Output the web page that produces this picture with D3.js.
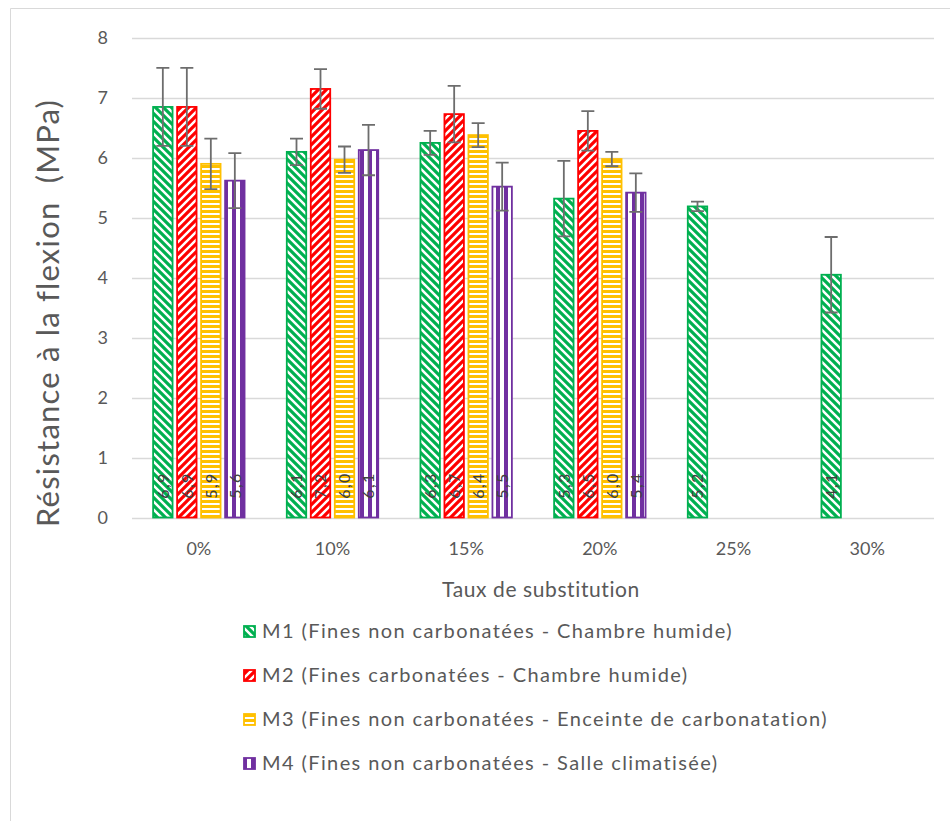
<!DOCTYPE html>
<html><head><meta charset="utf-8">
<script src="https://cdn.jsdelivr.net/npm/d3@7/dist/d3.min.js"></script>
<style>
html,body{margin:0;padding:0;background:#fff;}
svg{display:block;font-family:Lato, "Open Sans", sans-serif;}
</style></head>
<body>
<svg id="chart" width="950" height="821"></svg>
<script>
const categories = ["0%","10%","15%","20%","25%","30%"];
const seriesNames = [
  "M1 (Fines non carbonatées - Chambre humide)",
  "M2 (Fines carbonatées - Chambre humide)",
  "M3 (Fines non carbonatées - Enceinte de carbonatation)",
  "M4 (Fines non carbonatées - Salle climatisée)"
];
const seriesColors = ["#00B050","#FF0000","#FFC000","#7030A0"];
const m1Values = [6.85, 6.10, 6.25, 5.32, 5.19, 4.05];
const m2Values = [6.85, 7.15, 6.73, 6.45, null, null];
const m3Values = [5.90, 5.97, 6.38, 5.98, null, null];
const m4Values = [5.62, 6.13, 5.52, 5.42, null, null];
const m1Errors = [0.65, 0.22, 0.20, 0.63, 0.08, 0.63];
const m2Errors = [0.65, 0.33, 0.47, 0.33, null, null];
const m3Errors = [0.42, 0.22, 0.20, 0.12, null, null];
const m4Errors = [0.46, 0.42, 0.40, 0.32, null, null];
const m1Labels = ["6,9","6,1","6,3","5,3","5,2","4,1"];
const m2Labels = ["6,9","7,2","6,7","6,5",null,null];
const m3Labels = ["5,9","6,0","6,4","6,0",null,null];
const m4Labels = ["5,6","6,1","5,5","5,4",null,null];
const yTicks = [0,1,2,3,4,5,6,7,8];
const yTitle = "Résistance à la flexion  (MPa)";
const xTitle = "Taux de substitution";

const allValues = [m1Values, m2Values, m3Values, m4Values];
const allErrors = [m1Errors, m2Errors, m3Errors, m4Errors];
const allLabels = [m1Labels, m2Labels, m3Labels, m4Labels];

const svg = d3.select("#chart");
const textColor = "#595959";

// patterns
const defs = svg.append("defs");
function pat(id, w, h, color, draw){
  const p = defs.append("pattern").attr("id", id).attr("patternUnits","userSpaceOnUse")
    .attr("width", w).attr("height", h);
  p.append("rect").attr("width", w).attr("height", h).attr("fill","#fff");
  draw(p, color);
}
// M1: wide downward diagonal "\"
pat("p0", 8, 8, seriesColors[0], (p,c)=>{
  p.append("path").attr("d","M-2,-2 L10,10 M-2,6 L2,10 M6,-2 L10,2").attr("stroke",c).attr("stroke-width",3.2);
});
// M2: wide upward diagonal "/"
pat("p1", 8, 8, seriesColors[1], (p,c)=>{
  p.append("path").attr("d","M-2,10 L10,-2 M-2,2 L2,-2 M6,10 L10,6").attr("stroke",c).attr("stroke-width",3.2);
});
// M3: horizontal stripes
pat("p2", 6, 5, seriesColors[2], (p,c)=>{
  p.append("rect").attr("width",6).attr("height",3).attr("fill",c);
});
// M4: vertical stripes
pat("p3", 8, 6, seriesColors[3], (p,c)=>{
  p.append("rect").attr("width",4).attr("height",6).attr("fill",c);
});

// border
svg.append("path").attr("d","M10.5,821 L10.5,8.5 L950,8.5").attr("fill","none").attr("stroke","#d9d9d9").attr("stroke-width",1);

const x0 = d3.scaleBand().domain(categories).range([132, 934]).paddingInner(0).paddingOuter(0);
const x1 = d3.scaleBand().domain(d3.range(4)).range([-48, 48]).paddingInner(0.19).paddingOuter(0.095);
const y = d3.scaleLinear().domain([0, 8]).range([517.5, 38]);

// gridlines
svg.append("g").selectAll("line").data(yTicks).join("line")
  .attr("x1", 132).attr("x2", 934)
  .attr("y1", d => Math.round(y(d)) + 0.5).attr("y2", d => Math.round(y(d)) + 0.5)
  .attr("stroke", "#d9d9d9").attr("stroke-width", 1.3);

// y tick labels
svg.append("g").selectAll("text").data(yTicks).join("text")
  .attr("x", 108).attr("y", d => y(d)).attr("dy","0.36em")
  .attr("text-anchor","end").attr("fill", textColor).attr("font-size", 18)
  .text(d => d);

// x tick labels
svg.append("g").selectAll("text").data(categories).join("text")
  .attr("x", d => x0(d) + x0.bandwidth()/2).attr("y", 549).attr("dy","0.36em")
  .attr("text-anchor","middle").attr("fill", textColor).attr("font-size", 18)
  .text(d => d);

// bars
const barData = [];
allValues.forEach((vals, s) => vals.forEach((v, i) => {
  if (v != null) barData.push({s, cat: categories[i], v, e: allErrors[s][i], label: allLabels[s][i]});
}));
const bw = x1.bandwidth();
const gBars = svg.append("g");
gBars.selectAll("rect").data(barData).join("rect")
  .attr("x", d => x0(d.cat) + x0.bandwidth()/2 + x1(d.s))
  .attr("y", d => y(d.v))
  .attr("width", bw)
  .attr("height", d => y(0) - y(d.v))
  .attr("fill", d => `url(#p${d.s})`)
  .attr("stroke", d => seriesColors[d.s]).attr("stroke-width", 1.8);

// data labels
svg.append("g").selectAll("text").data(barData).join("text")
  .attr("transform", d => `translate(${x0(d.cat) + x0.bandwidth()/2 + x1(d.s) + bw/2},${y(0) - 32}) rotate(-90)`)
  .attr("text-anchor","middle").attr("dy","0.36em")
  .attr("fill","#404040").attr("font-size", 16).attr("letter-spacing", 1.5)
  .text(d => d.label);

// error bars
const gErr = svg.append("g").attr("stroke","#6d6d6d").attr("stroke-width",1.8).attr("fill","none");
gErr.selectAll("path").data(barData.filter(d => d.e != null)).join("path")
  .attr("d", d => {
    const cx = x0(d.cat) + x0.bandwidth()/2 + x1(d.s) + bw/2;
    const t = y(d.v + d.e), b = y(d.v - d.e);
    return `M${cx},${t} L${cx},${b} M${cx-6.5},${t} L${cx+6.5},${t} M${cx-6.5},${b} L${cx+6.5},${b}`;
  });

// axis titles
svg.append("text").attr("transform", `translate(59,313) rotate(-90)`)
  .attr("text-anchor","middle").attr("fill", textColor).attr("font-size", 31)
  .attr("letter-spacing", 1.2)
  .attr("xml:space","preserve").style("white-space","pre")
  .text(yTitle);
svg.append("text").attr("x", 541).attr("y", 589).attr("dy","0.36em")
  .attr("text-anchor","middle").attr("fill", textColor).attr("font-size", 21)
  .attr("letter-spacing", 0.6)
  .text(xTitle);

// legend
const leg = svg.append("g").selectAll("g").data(seriesNames).join("g")
  .attr("transform", (d,i) => `translate(243,${631 + i*44})`);
leg.append("rect").attr("x",1).attr("y",-5).attr("width",11).attr("height",11)
  .attr("fill",(d,i)=>`url(#p${i})`).attr("stroke",(d,i)=>seriesColors[i]).attr("stroke-width",1.8);
leg.append("text").attr("x", 19).attr("y", 0).attr("dy","0.36em")
  .attr("fill", textColor).attr("font-size", 20).attr("letter-spacing", 1.4)
  .text(d => d);
</script>
</body></html>
